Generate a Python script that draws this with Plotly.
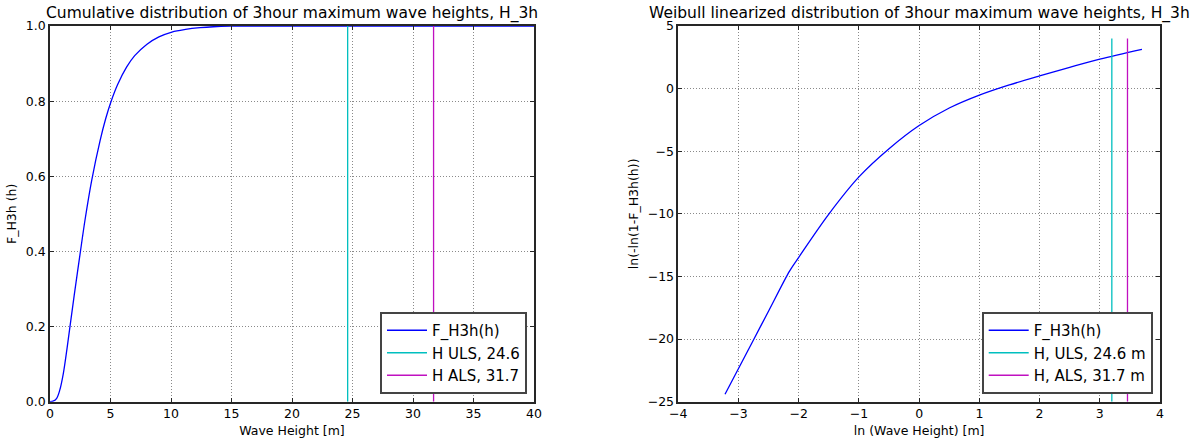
import plotly.graph_objects as go

# ---- data ----
wave_height = [0.0, 0.3, 0.55, 0.8, 1.1, 1.4, 1.65, 2.0, 2.48, 2.9, 3.45, 4.14, 4.6,
               5.04, 5.6, 6.34, 7.0, 7.99, 9.0, 10.07, 11.2, 12.4, 13.5, 14.9, 17.0,
               20.0, 30.0, 40.0]
cdf_h3h = [0.0, 0.002, 0.009, 0.03, 0.075, 0.14, 0.2, 0.283, 0.392, 0.485, 0.59, 0.695, 0.753,
           0.7985, 0.845, 0.891, 0.921, 0.951, 0.971, 0.984, 0.991, 0.9955, 0.998, 0.9995, 1.0,
           1.0, 1.0, 1.0]

ln_height = [-3.224, -2.754, -2.5, -2.15, -2.0, -1.5, -1.0, -0.5, 0.0, 0.5, 1.0,
             1.5, 2.0, 2.5, 3.0, 3.70]
ln_ln_cdf = [-24.41, -20.09, -17.76, -14.55, -13.47, -10.02, -7.05, -4.8, -2.95, -1.55, -0.52,
             0.3, 1.02, 1.7, 2.35, 3.14]

h_uls, h_als = 24.6, 31.7
ln_h_uls, ln_h_als = 3.20, 3.46
left_vline_y = [0.0, 1.0]
right_vline_y = [-25.0, 4.0]

BLUE, CYAN, MAGENTA = "#0000ff", "#00bfbf", "#c010c0"
FONT = "DejaVu Sans"
AX = "#262626"
LW = 1.3

fig = go.Figure()

# left subplot
fig.add_trace(go.Scatter(x=wave_height, y=cdf_h3h, mode="lines", name="F_H3h(h)",
                         line=dict(color=BLUE, width=LW, shape="spline", smoothing=1.0),
                         xaxis="x", yaxis="y", legend="legend"))
fig.add_trace(go.Scatter(x=[h_uls, h_uls], y=left_vline_y, mode="lines", name="H ULS, 24.6",
                         line=dict(color=CYAN, width=LW), xaxis="x", yaxis="y", legend="legend"))
fig.add_trace(go.Scatter(x=[h_als, h_als], y=left_vline_y, mode="lines", name="H ALS, 31.7",
                         line=dict(color=MAGENTA, width=LW), xaxis="x", yaxis="y", legend="legend"))

# right subplot
fig.add_trace(go.Scatter(x=ln_height, y=ln_ln_cdf, mode="lines", name="F_H3h(h)",
                         line=dict(color=BLUE, width=LW, shape="spline", smoothing=1.0),
                         xaxis="x2", yaxis="y2", legend="legend2"))
fig.add_trace(go.Scatter(x=[ln_h_uls, ln_h_uls], y=right_vline_y, mode="lines", name="H, ULS, 24.6 m",
                         line=dict(color=CYAN, width=LW), xaxis="x2", yaxis="y2", legend="legend2"))
fig.add_trace(go.Scatter(x=[ln_h_als, ln_h_als], y=right_vline_y, mode="lines", name="H, ALS, 31.7 m",
                         line=dict(color=MAGENTA, width=LW), xaxis="x2", yaxis="y2", legend="legend2"))

W, H = 1198, 442
left_dom = [50 / W, 534 / W]
right_dom = [678.3 / W, 1160 / W]
y_dom = [(H - 401.7) / H, (H - 26) / H]

axis_common = dict(showgrid=True, gridcolor="#8a8a8a", griddash="1px,2px", gridwidth=1,
                   showline=True, linecolor=AX, linewidth=1.5, mirror="ticks",
                   ticks="inside", ticklen=4, tickcolor=AX, tickwidth=1,
                   zeroline=False, automargin=False,
                   tickfont=dict(size=12.5, color="black", family=FONT),
                   title_font=dict(size=12.5, color="black", family=FONT))

legend_common = dict(xanchor="right", yanchor="bottom", bgcolor="white",
                     bordercolor="#444444", borderwidth=2, itemwidth=40,
                     font=dict(size=15, family=FONT, color="black"))

fig.update_layout(
    width=W, height=H,
    margin=dict(l=0, r=0, t=0, b=0, autoexpand=False),
    paper_bgcolor="white", plot_bgcolor="white",
    font=dict(family=FONT, color="black"),
    xaxis=dict(domain=left_dom, anchor="y", range=[0, 40], tick0=0, dtick=5,
               title=dict(text="Wave Height [m]", standoff=6), **axis_common),
    yaxis=dict(domain=y_dom, anchor="x", range=[0, 1], tick0=0, dtick=0.2, tickformat=".1f",
               title=dict(text="F_H3h (h)", standoff=6), **axis_common),
    xaxis2=dict(domain=right_dom, anchor="y2", range=[-4, 4], tick0=-4, dtick=1,
                title=dict(text="ln (Wave Height) [m]", standoff=6), **axis_common),
    yaxis2=dict(domain=y_dom, anchor="x2", range=[-25, 5], tick0=-25, dtick=5,
                title=dict(text="ln(-ln(1-F_H3h(h))", standoff=6), **axis_common),
    legend=dict(x=527 / W, y=(H - 394) / H, **legend_common),
    legend2=dict(x=1152.7 / W, y=(H - 394) / H, **legend_common),
    showlegend=True,
    annotations=[
        dict(text="Cumulative distribution of 3hour maximum wave heights, H_3h",
             x=sum(left_dom) / 2, y=y_dom[1], xref="paper", yref="paper",
             xanchor="center", yanchor="bottom", yshift=1, showarrow=False,
             font=dict(size=15.5, family=FONT, color="black")),
        dict(text="Weibull linearized distribution of 3hour maximum wave heights, H_3h",
             x=sum(right_dom) / 2, y=y_dom[1], xref="paper", yref="paper",
             xanchor="center", yanchor="bottom", yshift=1, showarrow=False,
             font=dict(size=15.5, family=FONT, color="black")),
    ],
)

fig.write_html("out.html")
